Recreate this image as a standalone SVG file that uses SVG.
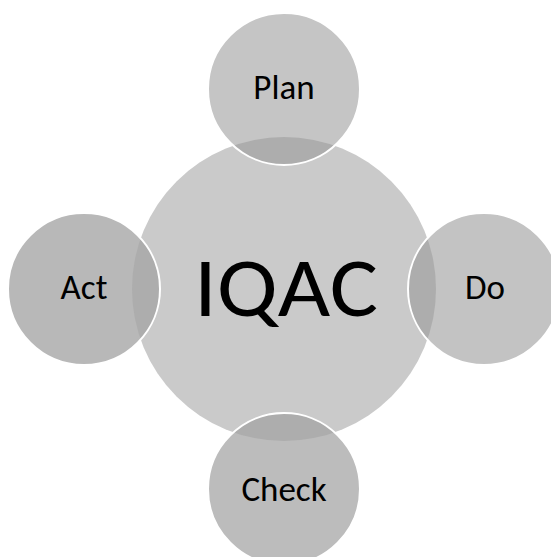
<svg xmlns="http://www.w3.org/2000/svg" width="551" height="557" viewBox="0 0 551 557">
  <style>
    .lbl { font-family: Carlito, Lato, "Open Sans", sans-serif; fill: #000; text-anchor: middle; }
    .sat { font-size: 35px; }
    .main { font-size: 85px; }
    .edge { fill: none; stroke: #ffffff; stroke-width: 2; }
    .ov { fill: #adadad; }
  </style>
  <defs>
    <clipPath id="clipMain">
      <circle cx="284" cy="289" r="152"/>
    </clipPath>
  </defs>
  <rect width="551" height="557" fill="#ffffff"/>
  <g id="node-iqac">
    <circle cx="284" cy="289" r="152" fill="#cacaca"/>
  </g>
  <g id="node-plan">
    <circle cx="284" cy="89" r="76" fill="#c5c5c5"/>
    <circle cx="284" cy="89" r="76" class="ov" clip-path="url(#clipMain)"/>
    <circle cx="284" cy="89" r="76" class="edge"/>
    <text x="284" y="99" class="lbl sat">Plan</text>
  </g>
  <g id="node-do">
    <circle cx="484" cy="289" r="76" fill="#c3c3c3"/>
    <circle cx="484" cy="289" r="76" class="ov" clip-path="url(#clipMain)"/>
    <circle cx="484" cy="289" r="76" class="edge"/>
    <text x="485" y="299" class="lbl sat">Do</text>
  </g>
  <g id="node-check">
    <circle cx="284" cy="489" r="76" fill="#bcbcbc"/>
    <circle cx="284" cy="489" r="76" class="ov" clip-path="url(#clipMain)"/>
    <circle cx="284" cy="489" r="76" class="edge"/>
    <text x="284" y="501" class="lbl sat">Check</text>
  </g>
  <g id="node-act">
    <circle cx="84" cy="289" r="76" fill="#b8b8b8"/>
    <circle cx="84" cy="289" r="76" class="ov" clip-path="url(#clipMain)"/>
    <circle cx="84" cy="289" r="76" class="edge"/>
    <text x="84" y="299" class="lbl sat">Act</text>
  </g>
  <g id="label-iqac">
    <text x="286" y="316" class="lbl main" textLength="184" lengthAdjust="spacingAndGlyphs">IQAC</text>
  </g>
  <g id="connectors"></g>
</svg>
